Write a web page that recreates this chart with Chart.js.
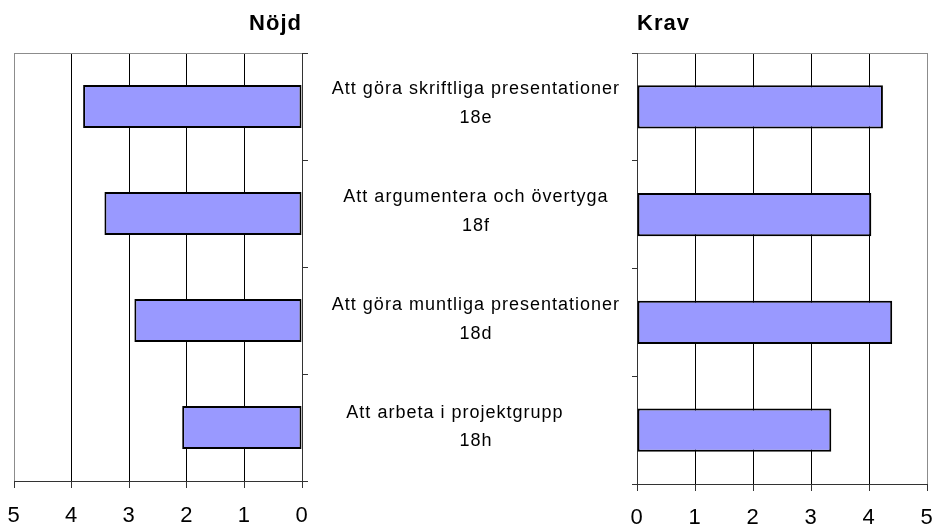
<!DOCTYPE html>
<html>
<head>
<meta charset="utf-8">
<script src="https://cdn.jsdelivr.net/npm/chart.js@4"></script>
<style>
  body { margin: 0; background: #fff; }
  #wrap { position: relative; width: 936px; height: 529px; }
  canvas { position: absolute; top: 0; }
  #nojd { left: 0; }
  #krav { left: 310px; }
</style>
</head>
<body>
<div id="wrap">
  <canvas id="nojd" width="310" height="529"></canvas>
  <canvas id="krav" width="626" height="529"></canvas>
</div>
<script>
    // questions, top to bottom
    const questions = [
        'Att göra skriftliga presentationer',
        'Att argumentera och övertyga',
        'Att göra muntliga presentationer',
        'Att arbeta i projektgrupp       '
    ];
    const codes = ['18e', '18f', '18d', '18h'];

    const nojd = [3.80, 3.43, 2.91, 2.08];
    const krav = [4.24, 4.04, 4.40, 3.35];

    const scaleMin = 0;
    const scaleMax = 5;

    const labels = questions.map((q, i) => [q, codes[i]]);
    const font = 'Arial, "Liberation Sans", sans-serif';

    // the original text is drawn slightly spread out
    const spacing = {
        id: 'spacing',
        beforeDraw(chart) {
            chart.ctx.letterSpacing = '1px';
        }
    };

    // labels may hang over the plot edges, don't let them shrink the plot
    function noOverflow(scale) {
        scale.paddingLeft = 0;
        scale.paddingRight = 0;
        scale.paddingTop = 0;
        scale.paddingBottom = 0;
    }

    function valueAxis(reverse, pad) {
        return {
            min: scaleMin,
            max: scaleMax,
            reverse: reverse,
            afterFit: scale => {
                noOverflow(scale);
                scale.height = 7 + pad + 22;
            },
            ticks: {
                stepSize: 1,
                color: '#000',
                padding: pad,
                font: { family: font, size: 22, lineHeight: 1 }
            },
            grid: {
                color: c => (c.tick && c.tick.value === scaleMax) ? '#8c8c8c' : '#000',
                tickColor: '#333',
                tickLength: 7,
                lineWidth: 1
            },
            border: { color: '#333', width: 1 }
        };
    }

    function categoryGrid(len) {
        return {
            offset: true,
            drawOnChartArea: true,
            // only the top edge shows inside the plot, as a grey border
            color: c => c.index === 0 ? '#8c8c8c' : 'rgba(0,0,0,0)',
            tickColor: '#333',
            tickLength: len
        };
    }

    function bars(values) {
        return {
            data: values,
            backgroundColor: '#9999ff',
            borderColor: '#000',
            borderWidth: 2,
            borderSkipped: false,
            barPercentage: 0.4,
            categoryPercentage: 1
        };
    }

    function titleOpts(text, align) {
        return {
            display: true,
            text: text,
            align: align,
            fullSize: false,
            color: '#000',
            font: { family: font, size: 22, weight: 'bold' },
            padding: { top: 10.5, bottom: 16.1 }
        };
    }

    new Chart(document.getElementById('nojd'), {
        type: 'bar',
        data: { labels: labels, datasets: [bars(nojd)] },
        options: {
            indexAxis: 'y',
            responsive: false,
            animation: false,
            layout: { padding: { left: 14, right: 2, top: 0, bottom: 2 } },
            scales: {
                x: valueAxis(true, 17),
                y: {
                    position: 'right',
                    grid: categoryGrid(6),
                    border: { color: '#333', width: 1 },
                    afterFit: noOverflow,
                    ticks: { display: false }
                }
            },
            plugins: {
                legend: { display: false },
                tooltip: { enabled: false },
                title: titleOpts('Nöjd', 'end')
            }
        },
        plugins: [spacing]
    });

    new Chart(document.getElementById('krav'), {
        type: 'bar',
        data: { labels: labels, datasets: [bars(krav)] },
        options: {
            indexAxis: 'y',
            responsive: false,
            animation: false,
            layout: { padding: { left: 0, right: 9, top: 0, bottom: 0 } },
            scales: {
                x: valueAxis(false, 16),
                y: {
                    position: 'left',
                    grid: categoryGrid(5),
                    border: { color: '#333', width: 1 },
                    afterFit: scale => {
                        noOverflow(scale);
                        scale.width = 327;
                    },
                    ticks: {
                        color: '#000',
                        crossAlign: 'center',
                        padding: 28,
                        labelOffset: -3,
                        autoSkip: false,
                        font: { family: font, size: 18, lineHeight: 1.6 }
                    }
                }
            },
            plugins: {
                legend: { display: false },
                tooltip: { enabled: false },
                title: titleOpts('Krav', 'start')
            }
        },
        plugins: [spacing]
    });
</script>
</body>
</html>
